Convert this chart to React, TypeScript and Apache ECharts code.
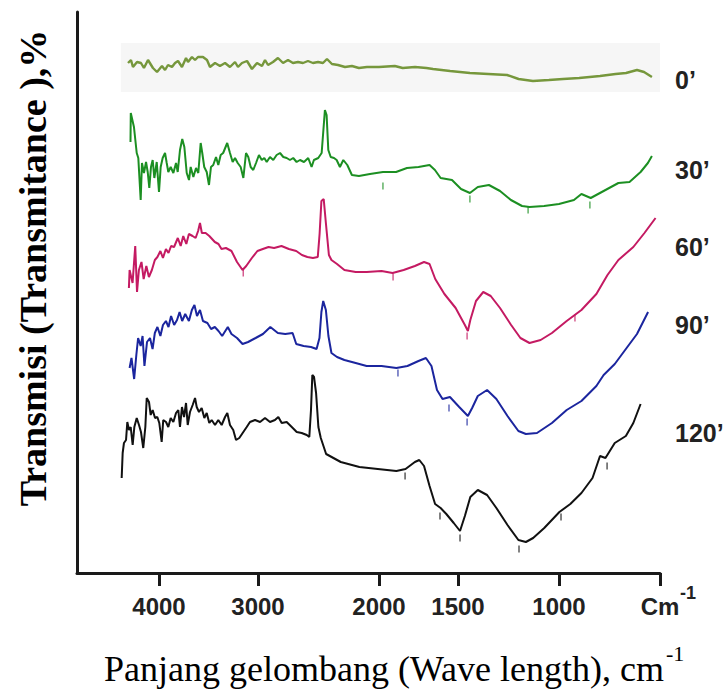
import React, { useEffect, useRef } from "react";
import * as echarts from "echarts";

// ---- axis (non-linear wavenumber scale as printed on the figure) ----
const tickWavenumbers = [4000, 3000, 2000, 1500, 1000, 500];
const tickLabels = ["4000", "3000", "2000", "1500", "1000", "Cm"];
const tickUnitSup = "-1";
const tickAxisPos = [0, 99, 220, 299, 400, 501];

// ---- series ----
const seriesNames = ["0’", "30’", "60’", "90’", "120’"];
const seriesColors = ["#76973c", "#1c8f22", "#c41a62", "#1b259e", "#111111"];

// [wavenumber cm-1, transmittance (offset, a.u.)]
const t0 = [[4313,510],[4283,513],[4263,506],[4222,511],[4182,510],[4152,505],[4111,513],[4061,505],[4020,501],[3970,507],[3939,503],[3909,508],[3869,506],[3838,510],[3808,512],[3768,506],[3727,515],[3707,511],[3667,516],[3636,513],[3606,516],[3556,516],[3515,513],[3485,506],[3434,510],[3384,507],[3333,510],[3283,506],[3232,511],[3202,506],[3162,510],[3111,512],[3061,504],[3010,510],[2967,507],[2942,513],[2917,508],[2876,511],[2835,515],[2793,510],[2752,513],[2711,510],[2670,511],[2628,510],[2587,512],[2546,510],[2504,511],[2463,510],[2430,514],[2389,509],[2339,508],[2281,506],[2224,507],[2166,505],[2100,506],[2000,506],[1900,507],[1850,505],[1772,506],[1700,505],[1658,504],[1550,502],[1441,500],[1350,499],[1257,498],[1200,494],[1129,492],[1050,493],[980,494],[900,495],[797,497],[720,499],[668,500],[614,503],[579,501],[540,496]];

const t30 = [[4288,431],[4285,460],[4253,446],[4225,420],[4209,415],[4185,373],[4172,410],[4152,400],[4131,411],[4114,401],[4098,385],[4081,406],[4064,413],[4047,395],[4023,411],[4000,381],[3983,406],[3963,415],[3939,420],[3922,410],[3906,401],[3882,406],[3855,400],[3828,410],[3811,401],[3788,423],[3765,434],[3744,426],[3720,400],[3697,393],[3680,406],[3653,396],[3626,405],[3603,400],[3579,430],[3563,420],[3543,406],[3518,401],[3495,388],[3475,406],[3452,408],[3424,416],[3401,408],[3377,418],[3352,420],[3311,430],[3283,420],[3256,411],[3232,415],[3205,410],[3175,406],[3148,395],[3121,420],[3098,416],[3074,406],[3048,403],[3020,410],[2992,418],[2969,413],[2948,415],[2928,411],[2901,416],[2874,413],[2846,418],[2818,420],[2791,416],[2763,415],[2736,413],[2709,415],[2681,411],[2653,413],[2620,411],[2585,415],[2557,406],[2538,413],[2502,415],[2474,420],[2447,463],[2433,458],[2419,423],[2399,416],[2372,415],[2350,413],[2323,406],[2295,413],[2262,408],[2224,398],[2166,397],[2075,399],[1975,401],[1892,401],[1823,405],[1750,406],[1680,408],[1646,403],[1610,395],[1538,393],[1485,384],[1441,380],[1402,386],[1347,388],[1292,382],[1238,373],[1183,367],[1146,366],[1074,367],[1000,369],[926,373],[889,379],[843,375],[779,382],[706,390],[651,391],[596,401],[560,410],[540,417]];

const t60 = [[4304,285],[4297,303],[4267,290],[4240,327],[4222,281],[4203,303],[4177,311],[4155,294],[4128,307],[4102,296],[4072,303],[4042,313],[4016,316],[3986,322],[3960,315],[3930,324],[3904,320],[3878,327],[3848,326],[3810,335],[3781,327],[3755,337],[3724,329],[3698,339],[3661,337],[3630,335],[3605,342],[3586,350],[3567,340],[3529,340],[3492,337],[3436,331],[3399,329],[3369,324],[3324,325],[3268,322],[3212,311],[3156,303],[3119,307],[3062,315],[3006,322],[2960,324],[2913,326],[2867,325],[2806,327],[2745,324],[2684,322],[2637,318],[2592,316],[2546,315],[2506,316],[2491,339],[2476,372],[2457,374],[2439,350],[2414,318],[2393,313],[2347,309],[2286,303],[2193,301],[2102,301],[1984,302],[1914,300],[1844,303],[1773,307],[1715,311],[1680,309],[1644,294],[1586,279],[1515,265],[1466,248],[1451,242],[1439,253],[1411,272],[1375,281],[1338,277],[1292,265],[1237,248],[1191,235],[1146,230],[1091,233],[1035,240],[962,252],[889,263],[815,279],[760,298],[706,313],[632,326],[577,340],[522,355]];

const t90 = [[4297,205],[4278,215],[4251,194],[4229,218],[4211,235],[4185,227],[4166,237],[4147,207],[4121,231],[4091,235],[4065,224],[4042,240],[4016,246],[3986,237],[3960,248],[3930,252],[3904,246],[3878,257],[3847,248],[3818,253],[3792,261],[3766,252],[3735,259],[3698,252],[3668,263],[3642,268],[3616,257],[3586,263],[3556,252],[3511,250],[3474,244],[3436,246],[3399,242],[3362,237],[3305,246],[3268,239],[3212,235],[3156,229],[3100,231],[3024,235],[2959,239],[2898,246],[2836,240],[2775,239],[2714,240],[2684,229],[2623,227],[2562,226],[2516,224],[2492,235],[2476,261],[2461,272],[2439,263],[2418,237],[2393,220],[2347,216],[2286,213],[2193,210],[2102,207],[1984,207],[1890,205],[1820,207],[1750,212],[1703,215],[1668,207],[1633,183],[1598,174],[1551,176],[1494,166],[1451,157],[1430,165],[1402,177],[1356,183],[1310,174],[1255,157],[1201,142],[1164,139],[1109,140],[1035,150],[962,163],[889,172],[815,187],[779,198],[724,209],[669,224],[614,239],[559,261]];

const t120 = [[4377,95],[4367,120],[4354,130],[4333,133],[4320,151],[4303,143],[4286,146],[4266,128],[4249,146],[4225,155],[4202,148],[4182,141],[4159,125],[4138,146],[4124,175],[4101,171],[4084,158],[4064,163],[4040,155],[4017,156],[3997,150],[3973,131],[3957,153],[3929,151],[3906,146],[3882,155],[3855,151],[3828,160],[3805,163],[3788,146],[3768,166],[3747,156],[3727,170],[3710,148],[3687,161],[3660,168],[3636,175],[3619,166],[3596,161],[3569,165],[3542,155],[3518,160],[3492,150],[3468,153],[3434,148],[3401,153],[3367,148],[3333,156],[3310,160],[3283,148],[3250,143],[3222,133],[3189,135],[3155,140],[3114,146],[3081,151],[3030,153],[2983,151],[2942,155],[2901,151],[2860,153],[2832,156],[2804,150],[2763,151],[2721,146],[2680,141],[2639,140],[2597,138],[2576,136],[2562,163],[2551,198],[2537,196],[2520,180],[2501,146],[2481,135],[2437,119],[2316,111],[2162,106],[2010,104],[1890,102],[1832,104],[1773,111],[1745,113],[1715,107],[1680,87],[1645,69],[1610,65],[1574,59],[1527,50],[1490,42],[1466,57],[1439,76],[1402,83],[1356,78],[1310,65],[1255,48],[1201,33],[1164,31],[1128,35],[1073,45],[998,61],[944,69],[889,80],[834,95],[797,117],[770,115],[724,130],[669,137],[632,150],[596,169]];

// small peak markers printed under each spectrum [wavenumber, level]
const peaks30 = [[1975,387],[1441,374],[1153,363],[847,368]];
const peaks60 = [[3149,300],[1911,296],[1455,237],[921,255]];
const peaks90 = [[1880,200],[1557,165],[1455,151]];
const peaks120 = [[1835,97],[1614,57],[1490,35],[1198,24],[990,56],[762,107]];

// shaded strip behind the 0' spectrum: [wavenumber from, to], [level low, high]
const band0Wn = [4385, 500];
const band0Level = [481, 530];

const yTitle = "Transmisi (Transmitance ),%";
const xTitle = "Panjang gelombang (Wave length), cm";
const xTitleSup = "-1";

function toAxis(w: number): number {
  const n = tickWavenumbers.length;
  let i = 0;
  if (w >= tickWavenumbers[0]) i = 0;
  else if (w <= tickWavenumbers[n - 1]) i = n - 2;
  else {
    for (i = 0; i < n - 1; i++) {
      if (w <= tickWavenumbers[i] && w >= tickWavenumbers[i + 1]) break;
    }
  }
  const w0 = tickWavenumbers[i], w1 = tickWavenumbers[i + 1];
  const p0 = tickAxisPos[i], p1 = tickAxisPos[i + 1];
  return p0 + ((w - w0) * (p1 - p0)) / (w1 - w0);
}

const conv = (arr: number[][]) => arr.map(([w, v]) => [toAxis(w), v]);

export default function App() {
  const ref = useRef<HTMLDivElement>(null);
  useEffect(() => {
    if (!ref.current) return;
    const chart = echarts.init(ref.current, undefined, { renderer: "svg" });
    const spectra = [t0, t30, t60, t90, t120];
    const peaks = [null, peaks30, peaks60, peaks90, peaks120];
    const labelY = [80, 170, 247, 325, 433];
    const sans = "Liberation Sans";
    const serif = "Liberation Serif";

    const series: any[] = [];
    spectra.forEach((d, i) => {
      const s: any = {
        name: seriesNames[i],
        type: "line",
        data: conv(d),
        showSymbol: false,
        symbol: "none",
        smooth: false,
        lineStyle: { color: seriesColors[i], width: i === 0 ? 2.4 : 2 },
        itemStyle: { color: seriesColors[i] },
        z: 3,
      };
      if (i === 0) {
        s.markArea = {
          silent: true,
          itemStyle: { color: "#f6f6f6" },
          data: [[
            { coord: [toAxis(band0Wn[0]), band0Level[0]] },
            { coord: [toAxis(band0Wn[1]), band0Level[1]] },
          ]],
        };
      }
      series.push(s);
      const p = peaks[i];
      if (p) {
        series.push({
          type: "scatter",
          data: conv(p),
          symbol: "rect",
          symbolSize: [1.4, 7],
          itemStyle: { color: seriesColors[i], opacity: 0.75 },
          silent: true,
          z: 2,
        });
      }
    });

    chart.setOption({
      animation: false,
      backgroundColor: "#ffffff",
      grid: { left: 77, right: 67, top: 12, bottom: 116, outerBoundsMode: "none" },
      xAxis: {
        type: "value",
        min: -82,
        max: 501,
        axisLine: { show: true, onZero: false, lineStyle: { color: "#1a1a1a", width: 3 } },
        axisTick: {
          show: true,
          customValues: tickAxisPos,
          length: 13,
          inside: false,
          lineStyle: { color: "#1a1a1a", width: 3 },
        },
        axisLabel: {
          show: true,
          customValues: tickAxisPos,
          margin: 21,
          color: "#222",
          fontFamily: sans,
          fontWeight: "bold",
          fontSize: 24,
          formatter: (v: number) => {
            const idx = tickAxisPos.findIndex((p) => Math.abs(p - v) < 0.5);
            return idx < 0 ? "" : tickLabels[idx];
          },
        },
        splitLine: { show: false },
      },
      yAxis: {
        type: "value",
        min: 0,
        max: 561,
        axisLine: { show: true, onZero: false, lineStyle: { color: "#1a1a1a", width: 3 } },
        axisTick: { show: false },
        axisLabel: { show: false },
        splitLine: { show: false },
      },
      series,
      graphic: [
        {
          type: "text",
          x: 680,
          y: 593,
          style: {
            text: tickUnitSup,
            fontFamily: sans,
            fontWeight: "bold",
            fontSize: 18,
            fill: "#222",
            align: "left",
            verticalAlign: "middle",
          },
        },
        {
          type: "text",
          x: 33,
          y: 268,
          rotation: Math.PI / 2,
          style: {
            text: yTitle,
            fontFamily: serif,
            fontWeight: "bold",
            fontSize: 38,
            fill: "#000",
            align: "center",
            verticalAlign: "middle",
          },
        },
        {
          type: "text",
          x: 664,
          y: 669,
          style: {
            text: xTitle,
            fontFamily: serif,
            fontSize: 36,
            fill: "#000",
            align: "right",
            verticalAlign: "middle",
          },
        },
        {
          type: "text",
          x: 666,
          y: 653,
          style: {
            text: xTitleSup,
            fontFamily: serif,
            fontSize: 22,
            fill: "#000",
            align: "left",
            verticalAlign: "middle",
          },
        },
        ...seriesNames.map((n, i) => ({
          type: "text",
          x: 675,
          y: labelY[i],
          style: {
            text: n,
            fontFamily: sans,
            fontWeight: "bold",
            fontSize: 25,
            fill: "#222",
            align: "left",
            verticalAlign: "middle",
          },
        })),
      ],
    });
    return () => chart.dispose();
  }, []);
  return (
    <div
      ref={ref}
      style={{ position: "fixed", left: 0, top: 0, width: 727, height: 689 }}
    />
  );
}
